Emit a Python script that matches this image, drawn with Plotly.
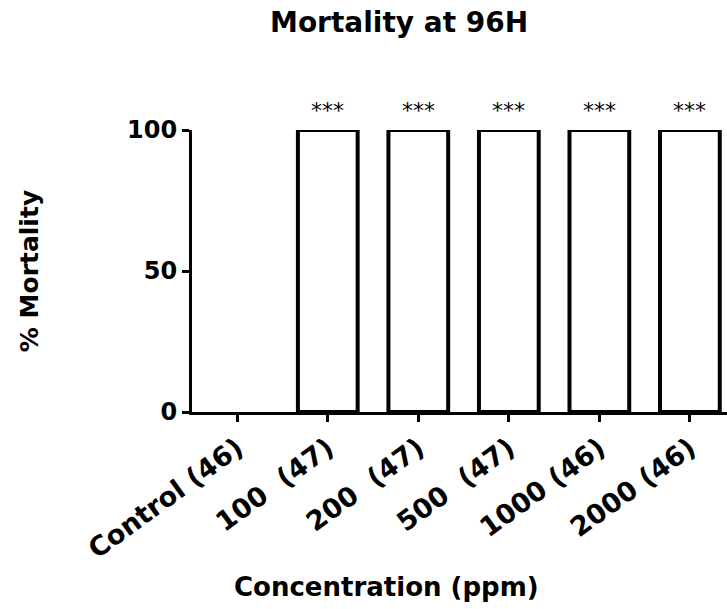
import plotly.graph_objects as go

categories = ["Control (46)", "100  (47)", "200  (47)", "500  (47)", "1000 (46)", "2000 (46)"]
mortality = [0, 100, 100, 100, 100, 100]
significance = ["", "***", "***", "***", "***", "***"]
y_ticks = [0, 50, 100]

FONT = "DejaVu Sans"

fig = go.Figure()
fig.add_trace(go.Bar(
    x=list(range(len(categories))),
    y=mortality,
    width=0.66,
    marker=dict(color="white",
                line=dict(color="black", width=[4 if v > 0 else 0 for v in mortality])),
    showlegend=False,
))

for i, s in enumerate(significance):
    if s:
        fig.add_annotation(
            x=i, y=mortality[i], text=s, showarrow=False,
            xanchor="center", yanchor="bottom", yshift=5,
            font=dict(family=FONT, size=22, color="black"),
        )

fig.add_annotation(
    x=0.363, xref="paper", y=-0.62, yref="paper",
    text="<b>Concentration (ppm)</b>", showarrow=False,
    xanchor="center", yanchor="middle",
    font=dict(family=FONT, size=26, color="black"),
)

fig.update_layout(
    width=727, height=609,
    margin=dict(l=192, r=0, t=130, b=197),
    paper_bgcolor="white", plot_bgcolor="white",
    title=dict(
        text="<b>Mortality at 96H</b>",
        x=0.549, xref="container", xanchor="center",
        y=0.964, yref="container", yanchor="middle",
        font=dict(family=FONT, size=28, color="black"),
    ),
    xaxis=dict(
        range=[-0.5, 5.41],
        tickmode="array",
        tickvals=list(range(len(categories))),
        ticktext=["<b>%s</b>" % c for c in categories],
        tickangle=-36,
        ticks="outside", ticklen=7, tickwidth=3, tickcolor="black",
        showline=True, linecolor="black", linewidth=3,
        showgrid=False, zeroline=False,
        tickfont=dict(family=FONT, size=27, color="black"),
        automargin=False,
    ),
    yaxis=dict(
        range=[0, 100],
        tickmode="array",
        tickvals=y_ticks,
        ticktext=["<b>%d</b>" % v for v in y_ticks],
        ticks="outside", ticklen=7, tickwidth=3, tickcolor="black",
        showline=True, linecolor="black", linewidth=3,
        showgrid=False, zeroline=False,
        tickfont=dict(family=FONT, size=24, color="black"),
        title=dict(text="<b>% Mortality</b>",
                   font=dict(family=FONT, size=25, color="black"),
                   standoff=82),
        automargin=False,
    ),
)

fig.write_html("out.html")
